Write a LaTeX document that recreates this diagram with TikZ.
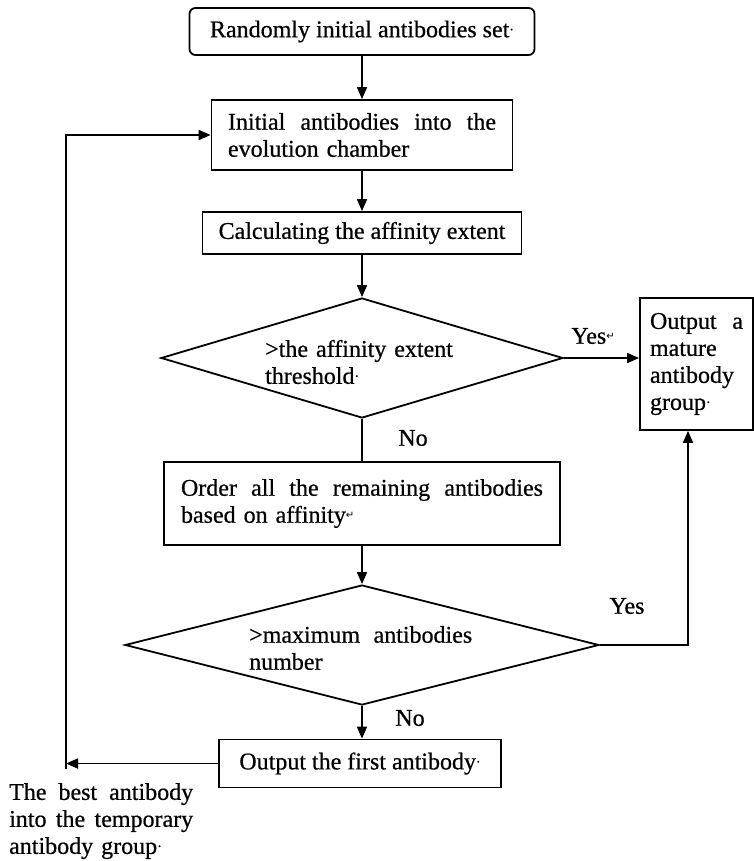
\documentclass[tikz,border=0pt]{standalone}
\usepackage{fontspec}
\setmainfont[FakeBold=0.6]{Liberation Serif}
\newfontfamily\symfont{DejaVu Sans}
\usetikzlibrary{arrows.meta,shapes.geometric}
% Word-style formatting marks that appear at line ends
\newcommand{\parmark}{{\symfont\fontsize{10}{10}\selectfont\raisebox{4pt}{↵}}}
\newcommand{\dotmark}{{\fontsize{14}{14}\selectfont\raisebox{3pt}{·}}}
\begin{document}
\begin{tikzpicture}[x=1pt, y=-1pt,
  font=\fontsize{24}{27}\selectfont,
  box/.style={draw, line width=1.8pt, inner sep=0pt},
  roundbox/.style={box, rounded corners=6pt},
  decision/.style={diamond, draw, line width=1.8pt, inner sep=0pt},
  para/.style={inner sep=0pt, align=left},
  lbl/.style={inner sep=0pt},
  arr/.style={line width=1.7pt, -{Triangle[length=12pt,width=10pt]}},
  link/.style={line width=1.7pt}]
\path[use as bounding box] (0,0) rectangle (754,861);

% main column
\node[roundbox, minimum width=345pt, minimum height=47pt] (start) at (362,31.5)
  {Randomly initial antibodies set\dotmark};
\node[box, minimum width=301pt, minimum height=70pt, text width=268pt, align=left] (chamber) at (362,135)
  {Initial\hfill antibodies\hfill into\hfill the\\evolution chamber};
\node[box, minimum width=319pt, minimum height=42pt] (affinity) at (362,233)
  {Calculating the affinity extent};
\node[decision, minimum width=402pt, minimum height=120pt] (thresh) at (362,358) {};
\node[para, anchor=west, text width=200pt] (threshtext) at (265,362)
  {>the affinity extent\\threshold\dotmark};
\node[box, minimum width=396pt, minimum height=83pt, text width=362pt, align=left] (order) at (362,503.5)
  {Order\hfill all\hfill the\hfill remaining\hfill antibodies\\based on affinity\parmark};
\node[decision, minimum width=474pt, minimum height=120pt] (maxnum) at (362,645) {};
\node[para, anchor=west, text width=223pt] (maxtext) at (249,648)
  {>maximum\hfill antibodies\\number};
\node[box, minimum width=282pt, minimum height=48pt] (first) at (360,763.5)
  {Output the first antibody\dotmark};

% result box on the right
\node[box, minimum width=113pt, minimum height=132pt, text width=93pt, align=left] (mature) at (696.5,364)
  {Output\hfill a\\mature\\antibody\\group\dotmark};

% feedback text
\node[para, anchor=north west, text width=184pt] (best) at (9,783)
  {The\hfill best\hfill antibody\\into\hfill the\hfill temporary\\antibody group\dotmark};

% branch labels
\node[lbl] (yes1) at (593,336) {Yes\parmark};
\node[lbl] (no1) at (413,438) {No};
\node[lbl] (yes2) at (627,606) {Yes};
\node[lbl] (no2) at (410,718) {No};

% helper points for the side routes
\coordinate (loop) at (66,763);
\coordinate (riser) at (688,0);

% connectors
\draw[arr] (start.south) -- (chamber.north);
\draw[arr] (chamber.south) -- (affinity.north);
\draw[arr] (affinity.south) -- (thresh.north);
\draw[arr] (thresh.east) -- (thresh.east -| mature.west);
\draw[link] (thresh.south) -- (order.north);
\draw[arr] (order.south) -- (maxnum.north);
\draw[arr] (maxnum.east) -| (riser |- mature.south);
\draw[arr] (maxnum.south) -- (maxnum.south |- first.north);
\draw[arr] (first.west) -- (first.west -| loop);
\draw[arr] ([yshift=-5pt]first.west -| loop) |- (chamber.west);
\end{tikzpicture}
\end{document}
